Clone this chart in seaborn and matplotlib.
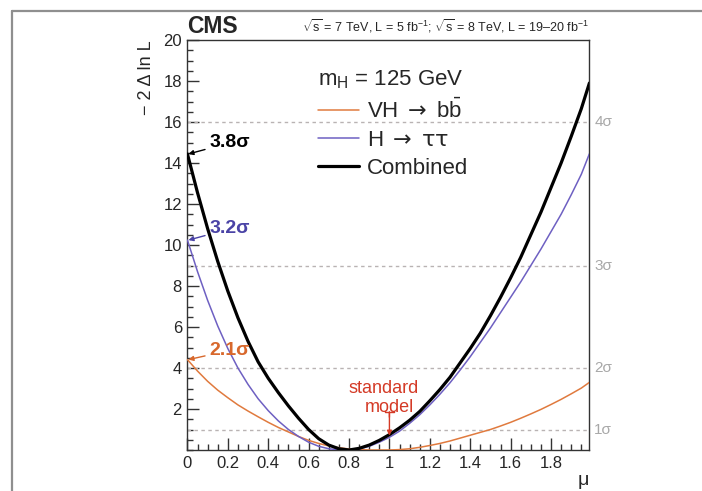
import numpy as np
import pandas as pd
import matplotlib
matplotlib.use("Agg")
import matplotlib.pyplot as plt
import matplotlib.transforms as mtransforms
from matplotlib.lines import Line2D
from matplotlib.ticker import MultipleLocator, FixedLocator
import seaborn as sns

# ---------------- data ----------------
mu = [0.0, 0.05, 0.1, 0.15, 0.2, 0.25, 0.3, 0.35, 0.4, 0.45, 0.5,
      0.55, 0.6, 0.65, 0.7, 0.75, 0.8, 0.85, 0.9, 0.95, 1.0,
      1.05, 1.1, 1.15, 1.2, 1.25, 1.3, 1.35, 1.4, 1.45, 1.5,
      1.55, 1.6, 1.65, 1.7, 1.75, 1.8, 1.85, 1.9, 1.95, 1.99]
nll_vhbb = [4.41, 3.85, 3.35, 2.92, 2.55, 2.2, 1.9, 1.62, 1.35, 1.1, 0.88,
            0.66, 0.47, 0.32, 0.2, 0.11, 0.05, 0.02, 0.0, 0.0, 0.0,
            0.02, 0.06, 0.13, 0.22, 0.32, 0.44, 0.58, 0.72, 0.86, 1.0,
            1.17, 1.35, 1.55, 1.76, 1.98, 2.22, 2.47, 2.74, 3.02, 3.3]
nll_tautau = [10.24, 8.7, 7.3, 6.05, 4.95, 4.0, 3.2, 2.5, 1.92, 1.42, 1.0,
              0.66, 0.38, 0.18, 0.06, 0.01, 0.0, 0.05, 0.18, 0.38, 0.62,
              0.92, 1.3, 1.72, 2.2, 2.72, 3.28, 3.9, 4.55, 5.25, 5.95,
              6.7, 7.45, 8.2, 9.0, 9.8, 10.65, 11.5, 12.45, 13.45, 14.45]
nll_comb = [14.44, 12.55, 10.8, 9.2, 7.75, 6.45, 5.3, 4.3, 3.5, 2.8, 2.15,
            1.55, 1.0, 0.55, 0.24, 0.06, 0.0, 0.08, 0.24, 0.47, 0.75,
            1.08, 1.45, 1.88, 2.4, 2.95, 3.55, 4.25, 4.95, 5.7, 6.55,
            7.45, 8.4, 9.4, 10.5, 11.6, 12.8, 14.0, 15.3, 16.65, 17.9]

series_labels = [r"VH $\mathsf{\rightarrow}$ b$\bar{\mathrm{b}}$",
                 r"H $\mathsf{\rightarrow}$ $\mathsf{\tau\tau}$",
                 "Combined"]
significance_labels = ["2.1σ", "3.2σ", "3.8σ"]
sigma_levels = [1, 4, 9, 16]
sigma_labels = ["1σ", "2σ", "3σ", "4σ"]
xtick_vals = [0, 0.2, 0.4, 0.6, 0.8, 1.0, 1.2, 1.4, 1.6, 1.8]
xtick_labels = ["0", "0.2", "0.4", "0.6", "0.8", "1", "1.2", "1.4", "1.6", "1.8"]
ytick_vals = [2, 4, 6, 8, 10, 12, 14, 16, 18, 20]
ytick_labels = ["2", "4", "6", "8", "10", "12", "14", "16", "18", "20"]

# ---------------- style ----------------
sns.set_theme(style="ticks")
plt.rcParams["font.family"] = ["Liberation Sans", "DejaVu Sans"]
plt.rcParams["mathtext.fontset"] = "custom"
plt.rcParams["mathtext.rm"] = "Liberation Sans"
plt.rcParams["mathtext.it"] = "Liberation Sans"
plt.rcParams["mathtext.bf"] = "Liberation Sans:bold"
plt.rcParams["mathtext.sf"] = "DejaVu Sans"

c_orange = "#e07a3e"
c_purple = "#6e60c2"
c_black = "#000000"
t_orange = "#d8682c"
t_purple = "#4a43a6"
grid_c = "#b9b3b3"
sig_c = "#a8a8a8"

fig = plt.figure(figsize=(7.02, 4.91), dpi=100)
ax = fig.add_axes([0.267, 0.0835, 0.5726, 0.835])

df = pd.DataFrame({
    "mu": mu * 3,
    "nll": nll_vhbb + nll_tautau + nll_comb,
    "series": [series_labels[0]] * len(mu) + [series_labels[1]] * len(mu)
              + [series_labels[2]] * len(mu),
})
palette = {series_labels[0]: c_orange, series_labels[1]: c_purple,
           series_labels[2]: c_black}
widths = {series_labels[0]: 1.1, series_labels[1]: 1.1, series_labels[2]: 2.3}
for lab in series_labels:
    sub = df[df["series"] == lab]
    sns.lineplot(data=sub, x="mu", y="nll", color=palette[lab],
                 lw=widths[lab], ax=ax, label=lab, zorder=3)

# sigma reference lines
trans = mtransforms.blended_transform_factory(ax.transAxes, ax.transData)
for lvl, lab in zip(sigma_levels, sigma_labels):
    ax.axhline(lvl, ls=(0, (2.5, 2.5)), color=grid_c, lw=1.0, zorder=1)
    ax.text(1.012, lvl, lab, transform=trans, ha="left", va="center",
            color=sig_c, fontsize=11)

ax.set_xlim(0, 1.99)
ax.set_ylim(0, 20)
ax.xaxis.set_major_locator(FixedLocator(xtick_vals))
ax.set_xticklabels(xtick_labels)
ax.yaxis.set_major_locator(FixedLocator(ytick_vals))
ax.set_yticklabels(ytick_labels)
ax.xaxis.set_minor_locator(MultipleLocator(0.05))
ax.yaxis.set_minor_locator(MultipleLocator(0.5))
ax.tick_params(which="major", direction="in", length=8.5, width=1.0,
               labelsize=12, pad=4, color="#333333", top=False, right=False)
ax.tick_params(which="minor", direction="in", length=4.3, width=1.0,
               color="#333333", top=False, right=False)
for sp in ax.spines.values():
    sp.set_color("#333333")
    sp.set_linewidth(1.0)

ax.set_xlabel("μ", loc="right", fontsize=14, labelpad=1)
ax.set_ylabel("− 2 Δ ln L", loc="top", fontsize=13, labelpad=6)

# legend
handles, labels = ax.get_legend_handles_labels()
leg = ax.legend(handles, labels, title=r"m$_{\mathrm{H}}$ = 125 GeV",
                loc="upper left", bbox_to_anchor=(0.297, 0.958), frameon=False,
                fontsize=16, title_fontsize=16, handlelength=1.85,
                handletextpad=0.35, labelspacing=0.33, borderpad=0,
                alignment="left")

# significance annotations at mu = 0
ann_y = [nll_vhbb[0], nll_tautau[0], nll_comb[0]]
ann_col = [t_orange, t_purple, c_black]
ann_off = [0.45, 0.55, 0.55]
for lab, yv, col, off in zip(significance_labels, ann_y, ann_col, ann_off):
    ax.annotate(lab, xy=(0.005, yv), xytext=(0.11, yv + off),
                fontsize=14, fontweight="bold", color=col, ha="left",
                va="center",
                arrowprops=dict(arrowstyle="-|>", color=col, lw=1.0,
                                mutation_scale=7, shrinkA=1, shrinkB=0))

# standard model marker
sm_col = "#d43a26"
ax.text(0.97, 3.0, "standard", ha="center", va="center",
        color=sm_col, fontsize=13)
ax.text(1.0, 2.08, "model", ha="center", va="center",
        color=sm_col, fontsize=13)
ax.annotate("", xy=(1.0, 0.7), xytext=(1.0, 1.85),
            arrowprops=dict(arrowstyle="-|>", color=sm_col, lw=1.0,
                            mutation_scale=7, shrinkA=0, shrinkB=0))
ax.annotate("", xy=(1.0, 1.85), xytext=(1.0, 1.6),
            arrowprops=dict(arrowstyle="-[", color=sm_col, lw=1.0,
                            mutation_scale=3, shrinkA=0, shrinkB=0))

# header texts
ax.text(0.0, 1.004, "CMS", transform=ax.transAxes, fontsize=16.5,
        fontweight="bold", ha="left", va="bottom")
ax.text(1.0, 1.012,
        r"$\sqrt{\mathrm{s}}$ = 7 TeV, L = 5 fb$^{-1}$; "
        r"$\sqrt{\mathrm{s}}$ = 8 TeV, L = 19–20 fb$^{-1}$",
        transform=ax.transAxes, fontsize=9, ha="right", va="bottom")

# screenshot frame (left and top)
fig.add_artist(Line2D([12 / 702, 1.0], [1 - 11 / 491] * 2,
                      transform=fig.transFigure, color="#8f8f8f", lw=1.6))
fig.add_artist(Line2D([12 / 702] * 2, [0.0, 1 - 11 / 491],
                      transform=fig.transFigure, color="#8f8f8f", lw=1.6))

fig.savefig("out.png", dpi=100)
